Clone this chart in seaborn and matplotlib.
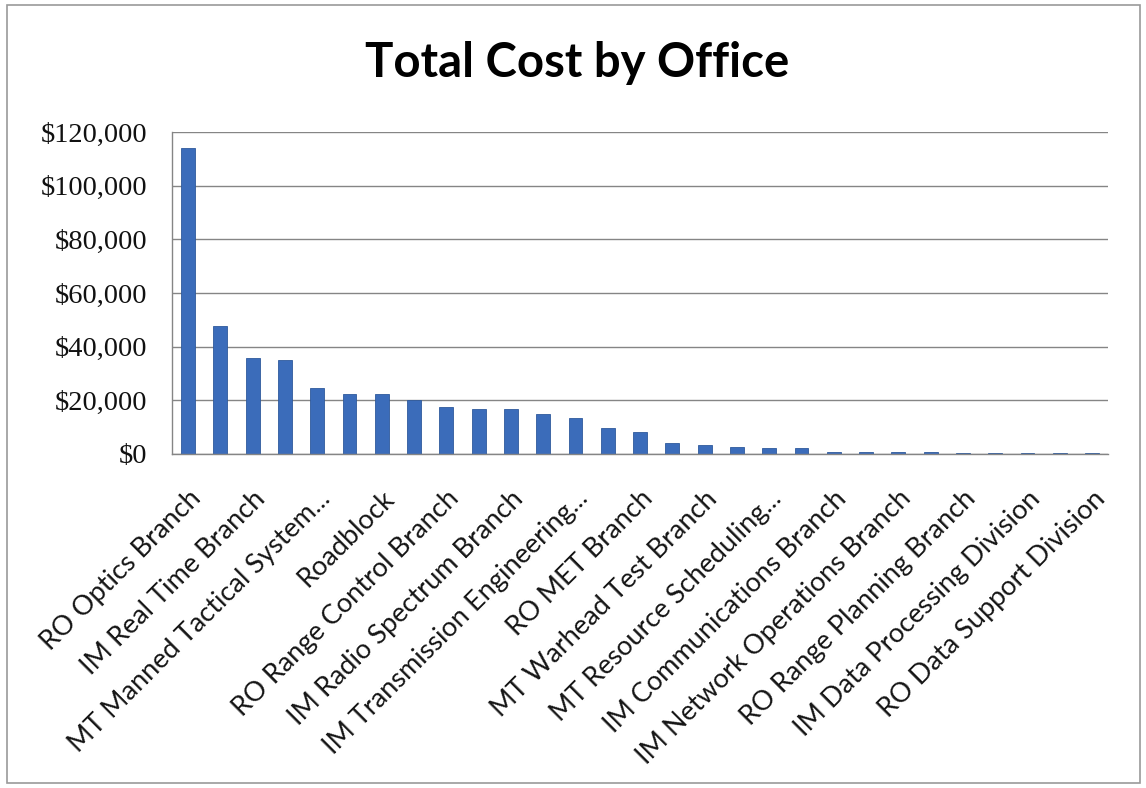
import numpy as np
import pandas as pd
import matplotlib
matplotlib.use("Agg")
import matplotlib.pyplot as plt
import matplotlib.ticker as mticker
from matplotlib.patches import Rectangle
import seaborn as sns

# only every other office name is shown on the axis (29 bars, 15 labels)
shown_labels = ['RO Optics Branch', 'IM Real Time Branch', 'MT Manned Tactical System...',
                'Roadblock', 'RO Range Control Branch', 'IM Radio Spectrum Branch',
                'IM Transmission Engineering...', 'RO MET Branch', 'MT Warhead Test Branch',
                'MT Resource Scheduling...', 'IM Communications Branch',
                'IM Network Operations Branch', 'RO Range Planning Branch',
                'IM Data Processing Division', 'RO Data Support Division']
total_cost = [114000, 47800, 35600, 35000, 24500, 22200, 22200, 20100, 17600, 16800,
              16800, 14900, 13500, 9600, 8300, 4200, 3350, 2700, 2100, 2100,
              700, 650, 600, 550, 500, 450, 400, 350, 300]
y_ticks = [0, 20000, 40000, 60000, 80000, 100000, 120000]

df = pd.DataFrame({'pos': np.arange(len(total_cost)), 'cost': total_cost})

sns.set_theme(style="white")
plt.rcParams['font.family'] = ['Lato', 'DejaVu Sans']

fig = plt.figure(figsize=(11.46, 7.88), dpi=100)
ax = fig.add_axes([0.150, 0.4239, 0.817, 0.4086])

sns.barplot(data=df, x='pos', y='cost', color='#3b6cba', saturation=1,
            width=0.43, edgecolor='#2f5a9c', linewidth=0.6, ax=ax)

ax.set_xlim(-0.5, len(total_cost) - 0.5)
ax.set_ylim(0, 120000)
ax.set_yticks(y_ticks)
ax.yaxis.set_major_formatter(mticker.FuncFormatter(lambda v, p: '${:,.0f}'.format(v)))
for lab in ax.get_yticklabels():
    lab.set_fontfamily('Liberation Serif')
    lab.set_fontsize(20.5)
    lab.set_color('#111111')
ax.grid(axis='y', color='#858585', linewidth=1)
ax.set_axisbelow(True)

ax.set_xticks(np.arange(0, len(total_cost), 2))
ax.set_xticklabels(shown_labels, rotation=45, ha='right', va='top', rotation_mode='anchor',
                   fontsize=19.5, color='#151515')
ax.set_xticks(np.arange(len(total_cost) + 1) - 0.5, minor=True)
ax.tick_params(axis='x', which='major', length=0, pad=23)
ax.tick_params(axis='x', which='minor', length=7, width=1, color='#858585', direction='out')
ax.tick_params(axis='y', length=9, width=1, color='#858585', direction='out', pad=9)
ax.set_xlabel('')
ax.set_ylabel('')

for side in ['top', 'right']:
    ax.spines[side].set_visible(False)
for side in ['left', 'bottom']:
    ax.spines[side].set_color('#858585')
    ax.spines[side].set_linewidth(1)

fig.text(0.504, 1 - 77 / 788, 'Total Cost by Office', ha='center', va='baseline',
         fontsize=34, fontweight='bold', color='black')

fig.patches.append(Rectangle((7 / 1146, 5 / 788), 1133 / 1146, 778 / 788,
                             transform=fig.transFigure, fill=False,
                             edgecolor='#9a9a9a', linewidth=1.2))

fig.savefig('out.png', dpi=100)
